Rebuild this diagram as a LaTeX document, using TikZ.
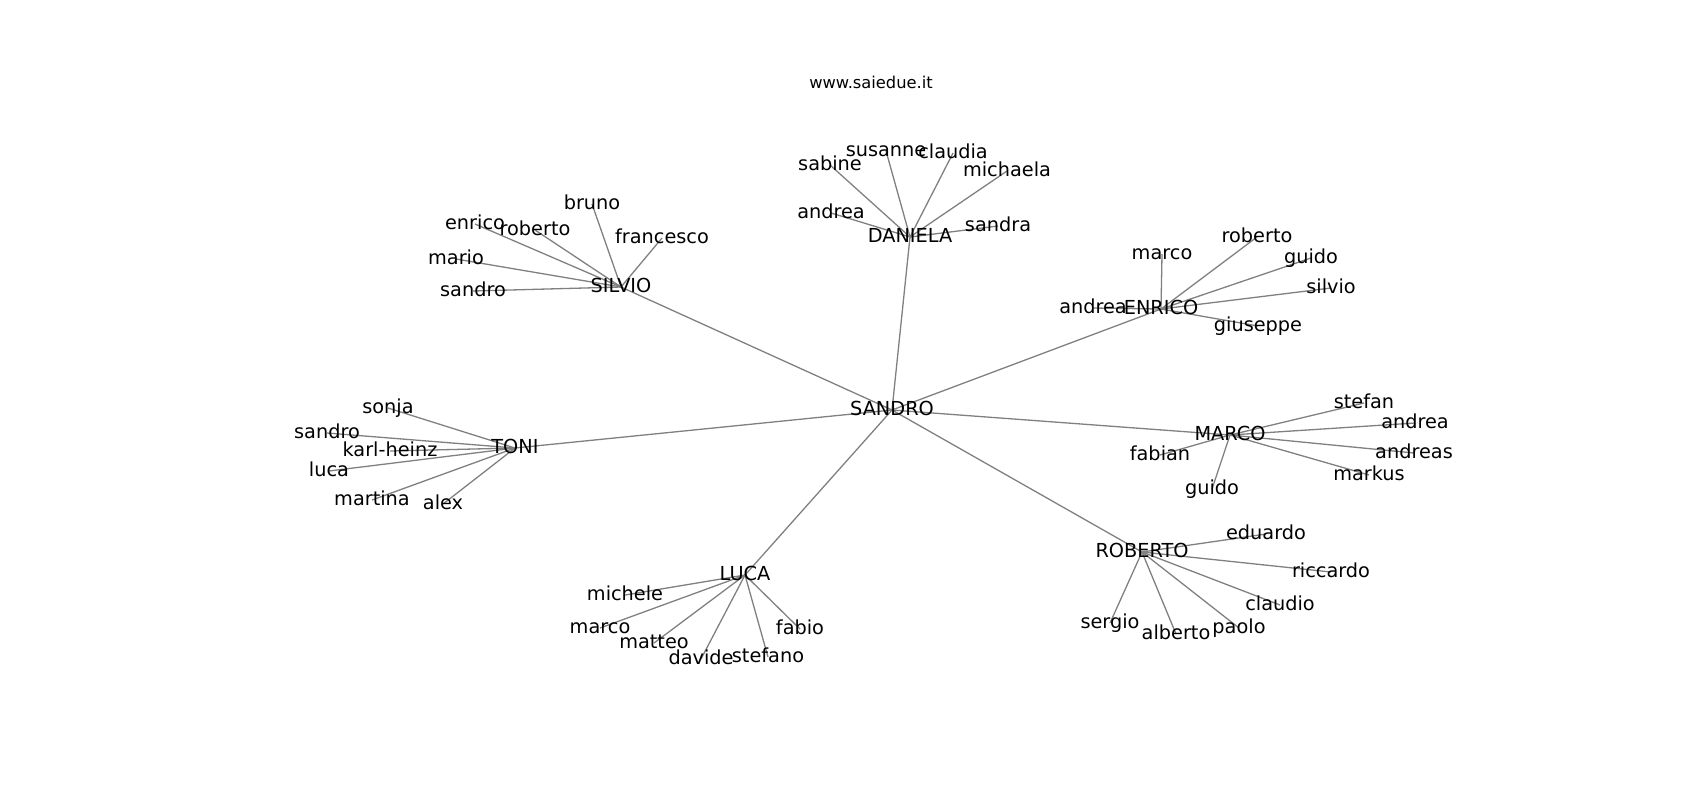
\documentclass[tikz,border=0pt]{standalone}
\usepackage{fontspec}
\setmainfont{DejaVu Sans}
\usetikzlibrary{backgrounds}

\begin{document}
\begin{tikzpicture}[x=0.5pt,y=-0.5pt,
  person/.style={inner sep=0pt,text height=0.76em,text depth=0.21em,font=\fontsize{9.65}{11}\selectfont},
  link/.style={draw=black!50,line width=0.65pt}]
       \useasboundingbox (0,0) rectangle (1700,800);
       \node[font=\fontsize{8.15}{10}\selectfont] (title) at (871,82) {www.saiedue.it};
       \begin{scope}[yshift=-1pt]
       % centre
       \node[person] (sandro) at (892,408) {SANDRO};
       % DANIELA
       \node[person] (daniela) at (910,235) {DANIELA};
       \node[person] (da-sabine) at (830,163) {sabine};
       \node[person] (da-susanne) at (886,149) {susanne};
       \node[person] (da-claudia) at (953,151) {claudia};
       \node[person] (da-michaela) at (1007,169) {michaela};
       \node[person] (da-andrea) at (831,211) {andrea};
       \node[person] (da-sandra) at (998,224) {sandra};
       % SILVIO
       \node[person] (silvio) at (621,285) {SILVIO};
       \node[person] (si-bruno) at (592,202) {bruno};
       \node[person] (si-enrico) at (475,222) {enrico};
       \node[person] (si-roberto) at (535,228) {roberto};
       \node[person] (si-francesco) at (662,236) {francesco};
       \node[person] (si-mario) at (456,257) {mario};
       \node[person] (si-sandro) at (473,289) {sandro};
       % ENRICO
       \node[person] (enrico) at (1161,307) {ENRICO};
       \node[person] (en-marco) at (1162,252) {marco};
       \node[person] (en-roberto) at (1257,235) {roberto};
       \node[person] (en-guido) at (1311,256) {guido};
       \node[person] (en-silvio) at (1331,286) {silvio};
       \node[person] (en-andrea) at (1093,306) {andrea};
       \node[person] (en-giuseppe) at (1258,324) {giuseppe};
       % TONI
       \node[person] (toni) at (515,446) {TONI};
       \node[person] (to-sonja) at (388,406) {sonja};
       \node[person] (to-sandro) at (327,431) {sandro};
       \node[person] (to-karlheinz) at (390,449) {karl-heinz};
       \node[person] (to-luca) at (329,469) {luca};
       \node[person] (to-martina) at (372,498) {martina};
       \node[person] (to-alex) at (443,502) {alex};
       % MARCO
       \node[person] (marco) at (1230,433) {MARCO};
       \node[person] (ma-stefan) at (1364,401) {stefan};
       \node[person] (ma-andrea) at (1415,421) {andrea};
       \node[person] (ma-andreas) at (1414,451) {andreas};
       \node[person] (ma-markus) at (1369,473) {markus};
       \node[person] (ma-fabian) at (1160,453) {fabian};
       \node[person] (ma-guido) at (1212,487) {guido};
       % LUCA
       \node[person] (luca) at (745,573) {LUCA};
       \node[person] (lu-michele) at (625,593) {michele};
       \node[person] (lu-marco) at (600,626) {marco};
       \node[person] (lu-matteo) at (654,641) {matteo};
       \node[person] (lu-davide) at (701,657) {davide};
       \node[person] (lu-stefano) at (768,655) {stefano};
       \node[person] (lu-fabio) at (800,627) {fabio};
       % ROBERTO
       \node[person] (roberto) at (1142,550) {ROBERTO};
       \node[person] (ro-eduardo) at (1266,532) {eduardo};
       \node[person] (ro-riccardo) at (1331,570) {riccardo};
       \node[person] (ro-claudio) at (1280,603) {claudio};
       \node[person] (ro-paolo) at (1239,626) {paolo};
       \node[person] (ro-alberto) at (1176,632) {alberto};
       \node[person] (ro-sergio) at (1110,621) {sergio};
       \begin{pgfonlayer}{background}
       \foreach \from/\to in {sandro/daniela,sandro/silvio,sandro/enrico,sandro/toni,sandro/marco,sandro/luca,sandro/roberto,
         daniela/da-sabine,daniela/da-susanne,daniela/da-claudia,daniela/da-michaela,daniela/da-andrea,daniela/da-sandra,
         silvio/si-bruno,silvio/si-enrico,silvio/si-roberto,silvio/si-francesco,silvio/si-mario,silvio/si-sandro,
         enrico/en-marco,enrico/en-roberto,enrico/en-guido,enrico/en-silvio,enrico/en-andrea,enrico/en-giuseppe,
         toni/to-sonja,toni/to-sandro,toni/to-karlheinz,toni/to-luca,toni/to-martina,toni/to-alex,
         marco/ma-stefan,marco/ma-andrea,marco/ma-andreas,marco/ma-markus,marco/ma-fabian,marco/ma-guido,
         luca/lu-michele,luca/lu-marco,luca/lu-matteo,luca/lu-davide,luca/lu-stefano,luca/lu-fabio,
         roberto/ro-eduardo,roberto/ro-riccardo,roberto/ro-claudio,roberto/ro-paolo,roberto/ro-alberto,roberto/ro-sergio}
         \draw[link] (\from.center) -- (\to.center);
       \end{pgfonlayer}
       \end{scope}
      \end{tikzpicture}
\end{document}
